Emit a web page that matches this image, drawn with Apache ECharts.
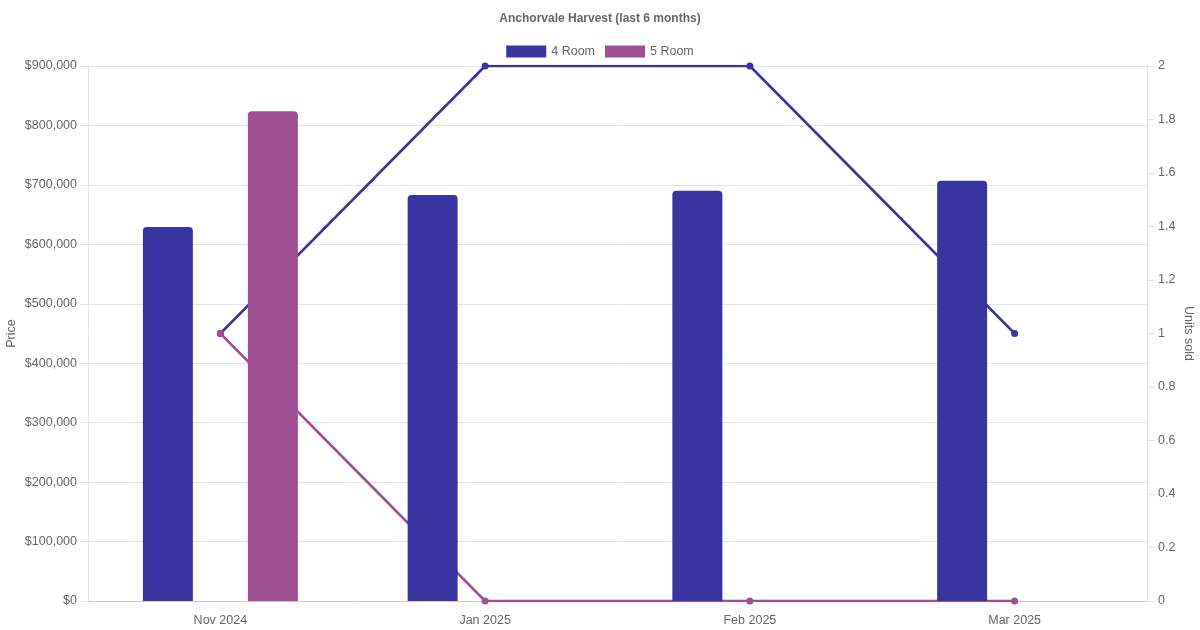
<!DOCTYPE html>
<html>
<head>
<meta charset="utf-8">
<script src="https://cdn.jsdelivr.net/npm/echarts@6/dist/echarts.min.js"></script>
<style>html,body{margin:0;padding:0;background:#fff}#c{width:1200px;height:630px}</style>
</head>
<body>
<div id="c"></div>
<script>
const categories = ['Nov 2024', 'Jan 2025', 'Feb 2025', 'Mar 2025'];
const price4Room = [629000, 683000, 690000, 707000];
const price5Room = [824000, 0, 0, 0];
const units4Room = [1, 2, 2, 1];
const units5Room = [1, 0, 0, 0];
const seriesNames = ['4 Room', '5 Room'];

const C4 = '#3a34a0';
const C5 = '#9f4f94';
const FONT = '"Liberation Sans", Arial, Helvetica, sans-serif';
const TXT = '#666';
const GRID = '#e5e5e5';

const chart = echarts.init(document.getElementById('c'), null, {renderer: 'canvas'});
chart.setOption({
  animation: false,
  textStyle: {fontFamily: FONT},
  title: {
    text: 'Anchorvale Harvest (last 6 months)',
    left: 'center', top: 8,
    textStyle: {fontFamily: FONT, fontSize: 12, fontWeight: 'bold', color: TXT}
  },
  legend: {
    data: seriesNames,
    top: 40, left: 'center',
    icon: 'rect', itemWidth: 40, itemHeight: 12, itemGap: 10,
    textStyle: {fontFamily: FONT, fontSize: 12.5, color: TXT}
  },
  grid: {left: 88, right: 53, top: 66, bottom: 29, containLabel: false, outerBoundsMode: 'none'},
  xAxis: {
    type: 'category', data: categories,
    axisLine: {lineStyle: {color: '#cccccc'}},
    axisTick: {show: false},
    axisLabel: {color: TXT, fontSize: 12.5, fontFamily: FONT, margin: 13},
    splitLine: {show: false}
  },
  yAxis: [{
    type: 'value', min: 0, max: 900000, interval: 100000,
    name: 'Price', nameLocation: 'middle', nameGap: 70, nameMoveOverlap: false,
    nameTextStyle: {color: TXT, fontSize: 12.5, fontFamily: FONT},
    axisLine: {show: true, lineStyle: {color: GRID}},
    axisTick: {show: true, length: 8, lineStyle: {color: GRID}},
    axisLabel: {color: TXT, fontSize: 12.5, fontFamily: FONT, margin: 11,
      formatter: v => '$' + v.toLocaleString('en-US')},
    splitLine: {lineStyle: {color: GRID}}
  }, {
    type: 'value', min: 0, max: 2, interval: 0.2, position: 'right',
    name: 'Units sold', nameLocation: 'middle', nameGap: 35, nameRotate: -90, nameMoveOverlap: false,
    nameTextStyle: {color: TXT, fontSize: 12.5, fontFamily: FONT},
    axisLine: {show: true, lineStyle: {color: GRID}},
    axisTick: {show: true, length: 8, lineStyle: {color: GRID}},
    axisLabel: {color: TXT, fontSize: 12.5, fontFamily: FONT, margin: 11,
      formatter: v => String(Math.round(v * 10) / 10)},
    splitLine: {show: false}
  }],
  series: [
    {name: '4 Room', type: 'line', yAxisIndex: 1, data: units4Room, z: 1,
     color: C4, lineStyle: {width: 2.5, color: C4}, symbol: 'circle', symbolSize: 7,
     itemStyle: {color: C4}},
    {name: '5 Room', type: 'line', yAxisIndex: 1, data: units5Room, z: 1,
     color: C5, lineStyle: {width: 2.5, color: C5}, symbol: 'circle', symbolSize: 7,
     itemStyle: {color: C5}},
    {name: '4 Room', type: 'bar', yAxisIndex: 0, data: price4Room, z: 3,
     barWidth: 50, barGap: '110%',
     itemStyle: {color: C4, borderRadius: [4, 4, 0, 0]}},
    {name: '5 Room', type: 'bar', yAxisIndex: 0, data: price5Room, z: 3,
     barWidth: 50, barGap: '110%',
     itemStyle: {color: C5, borderRadius: [4, 4, 0, 0]}}
  ]
});
</script>
</body>
</html>
